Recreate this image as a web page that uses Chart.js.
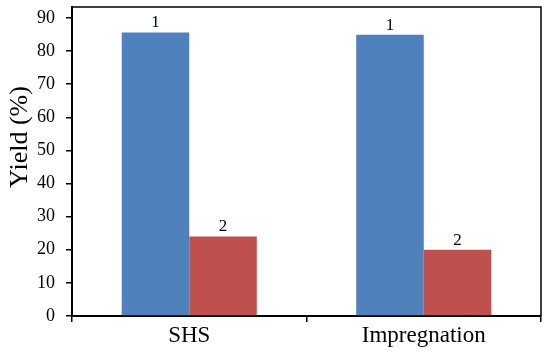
<!DOCTYPE html>
<html>
<head>
<meta charset="utf-8">
<script src="https://cdn.jsdelivr.net/npm/chart.js@4/dist/chart.umd.min.js"></script>
<style>
  html, body { margin: 0; padding: 0; background: #fff; }
  #wrap { width: 550px; height: 357px; }
</style>
</head>
<body>
<div id="wrap"><canvas id="chartYield"></canvas></div>
<script>
var categories = ['SHS', 'Impregnation'];
var series1 = [85.6, 84.9];
var series2 = [24.0, 20.0];
var seriesTags = ['1', '2'];
var yTicks = [0, 10, 20, 30, 40, 50, 60, 70, 80, 90];
var yTitle = 'Yield (%)';

var serif = '"Liberation Serif", "Times New Roman", serif';

// number tag above every bar, box round the plot, y title (sits a bit above centre, like the original)
var barTags = {
    id: 'barTags',
    afterDatasetsDraw: function(chart) {
        var ctx = chart.ctx;
        ctx.save();
        ctx.fillStyle = '#000';
        ctx.font = '17px ' + serif;
        ctx.textAlign = 'center';
        ctx.textBaseline = 'bottom';
        chart.data.datasets.forEach(function(ds, i) {
            chart.getDatasetMeta(i).data.forEach(function(bar) {
                ctx.fillText(seriesTags[i], bar.x, bar.y - 1);
            });
        });
        var a = chart.chartArea;
        ctx.strokeStyle = '#000';
        ctx.lineWidth = 1.5;
        ctx.beginPath();
        ctx.moveTo(a.left, a.top);
        ctx.lineTo(a.right, a.top);
        ctx.lineTo(a.right, a.bottom);
        ctx.stroke();

        ctx.translate(20, 137);
        ctx.rotate(-Math.PI / 2);
        ctx.font = '26px ' + serif;
        ctx.textBaseline = 'middle';
        ctx.fillText(yTitle, 0, 0);
        ctx.restore();
    }
};

var ctx = document.getElementById('chartYield');
var chart = new Chart(ctx, {
    type: 'bar',
    data: {
        labels: categories,
        datasets: [{
            label: seriesTags[0],
            data: series1,
            backgroundColor: '#4f81bd'
        }, {
            label: seriesTags[1],
            data: series2,
            backgroundColor: '#c0504d'
        }]
    },
    options: {
        responsive: true,
        maintainAspectRatio: false,
        animation: false,
        layout: { padding: { top: 7, right: 9, left: 0, bottom: 0 } },
        datasets: { bar: { categoryPercentage: 0.576, barPercentage: 1.0 } },
        plugins: {
            legend: { display: false },
            tooltip: { enabled: false }
        },
        scales: {
            x: {
                grid: {
                    drawOnChartArea: false, drawTicks: true, tickLength: 6, lineWidth: 1.5, offset: true,
                    color: function(c) { return c.index === 2 ? 'rgba(0,0,0,0)' : '#000'; }
                },
                border: { color: '#000', width: 2 },
                ticks: { color: '#000', font: { family: serif, size: 23 }, padding: 0 },
                afterFit: function(s) { s.height = 41; s.paddingLeft = 0; s.paddingRight = 0; }
            },
            y: {
                min: 0,
                max: 93.3,
                afterBuildTicks: function(s) {
                    s.ticks = yTicks.map(function(v) { return { value: v }; });
                },
                grid: { drawOnChartArea: false, drawTicks: true, tickLength: 6, color: '#000', lineWidth: 1.5 },
                border: { color: '#000', width: 2 },
                ticks: { color: '#000', font: { family: serif, size: 18 }, padding: 11 },
                afterFit: function(s) { s.width = 72; s.paddingTop = 0; s.paddingBottom = 0; }
            }
        }
    },
    plugins: [barTags]
});
</script>
</body>
</html>
